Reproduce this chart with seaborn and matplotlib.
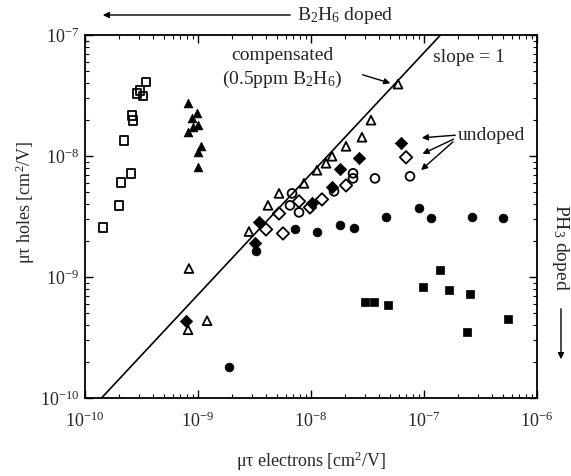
import numpy as np
import pandas as pd
import matplotlib
matplotlib.use("Agg")
import matplotlib.pyplot as plt
import seaborn as sns
from matplotlib.ticker import FixedLocator, LogLocator, NullFormatter

# ---- data (log10 values) ----
b2h6_sq_x = [-9.460, -9.540, -9.487, -9.513, -9.584, -9.575, -9.655, -9.593, -9.681, -9.699, -9.841]
b2h6_sq_y = [-7.389, -7.481, -7.505, -7.456, -7.663, -7.704, -7.870, -8.143, -8.218, -8.408, -8.591]

b2h6_tri_x = [-9.088, -9.009, -9.053, -9.000, -9.044, -9.088, -8.973, -9.000, -9.000]
b2h6_tri_y = [-7.563, -7.646, -7.688, -7.746, -7.762, -7.804, -7.920, -7.969, -8.094]

comp_tri_x = [-7.230, -7.469, -7.549, -7.690, -7.814, -7.867, -7.947, -8.062, -8.283, -8.381, -8.549, -9.080, -8.920, -9.088]
comp_tri_y = [-7.406, -7.704, -7.845, -7.920, -8.002, -8.060, -8.118, -8.226, -8.309, -8.408, -8.624, -8.930, -9.361, -9.436]

undoped_fd_x = [-7.204, -7.575, -7.743, -7.814, -7.991, -8.460, -8.496, -9.106]
undoped_fd_y = [-7.895, -8.019, -8.110, -8.259, -8.392, -8.549, -8.723, -9.361]

undoped_od_x = [-7.159, -7.690, -7.903, -8.009, -8.106, -8.283, -8.398, -8.248]
undoped_od_y = [-8.011, -8.243, -8.359, -8.425, -8.375, -8.475, -8.607, -8.640]

undoped_oc_x = [-7.124, -7.434, -7.628, -7.628, -7.796, -8.106, -8.168, -8.186]
undoped_oc_y = [-8.168, -8.185, -8.143, -8.185, -8.292, -8.466, -8.309, -8.408]

ph3_circ_x = [-8.142, -7.947, -7.743, -7.619, -7.336, -7.044, -6.938, -6.575, -6.301, -8.726, -8.487]
ph3_circ_y = [-8.607, -8.632, -8.574, -8.591, -8.500, -8.433, -8.516, -8.500, -8.516, -9.742, -8.781]

ph3_sq_x = [-6.858, -7.009, -6.779, -6.593, -6.619, -7.522, -7.442, -7.319, -6.257]
ph3_sq_y = [-8.939, -9.080, -9.104, -9.138, -9.452, -9.204, -9.204, -9.229, -9.345]

slope_line_x = [1.4e-10, 1.4e-7]
slope_line_y = [1.0e-10, 1.0e-7]

x_ticks = [1e-10, 1e-9, 1e-8, 1e-7, 1e-6]
x_ticklabels = ["10$^{-10}$", "10$^{-9}$", "10$^{-8}$", "10$^{-7}$", "10$^{-6}$"]
y_ticks = [1e-10, 1e-9, 1e-8, 1e-7]
y_ticklabels = ["10$^{-10}$", "10$^{-9}$", "10$^{-8}$", "10$^{-7}$"]

# ---- style ----
sns.set_theme(style="ticks")
plt.rcParams["font.family"] = ["Liberation Serif", "DejaVu Serif"]
plt.rcParams["mathtext.fontset"] = "custom"
plt.rcParams["mathtext.rm"] = "Liberation Serif"
plt.rcParams["mathtext.it"] = "Liberation Serif:italic"
plt.rcParams["mathtext.default"] = "rm"

fig = plt.figure(figsize=(5.71, 4.76), dpi=100)
ax = fig.add_axes([85/571, 1-398/476, (537-85)/571, (398-35)/476])

def mk(xs, ys):
    return pd.DataFrame({"x": 10.0**np.array(xs), "y": 10.0**np.array(ys)})

ms = 40
lw = 1.3
sns.scatterplot(data=mk(b2h6_sq_x, b2h6_sq_y), x="x", y="y", marker="s", s=ms,
                facecolor="none", edgecolor="black", linewidth=lw, ax=ax)
sns.scatterplot(data=mk(b2h6_tri_x, b2h6_tri_y), x="x", y="y", marker="^", s=ms,
                color="black", edgecolor="black", linewidth=0.5, ax=ax)
sns.scatterplot(data=mk(comp_tri_x, comp_tri_y), x="x", y="y", marker="^", s=ms,
                facecolor="none", edgecolor="black", linewidth=lw, ax=ax)
sns.scatterplot(data=mk(undoped_fd_x, undoped_fd_y), x="x", y="y", marker="D", s=ms,
                color="black", edgecolor="black", linewidth=0.5, ax=ax)
sns.scatterplot(data=mk(undoped_od_x, undoped_od_y), x="x", y="y", marker="D", s=ms,
                facecolor="none", edgecolor="black", linewidth=lw, ax=ax)
sns.scatterplot(data=mk(undoped_oc_x, undoped_oc_y), x="x", y="y", marker="o", s=ms,
                facecolor="none", edgecolor="black", linewidth=lw, ax=ax)
sns.scatterplot(data=mk(ph3_circ_x, ph3_circ_y), x="x", y="y", marker="o", s=ms,
                color="black", edgecolor="black", linewidth=0.5, ax=ax)
sns.scatterplot(data=mk(ph3_sq_x, ph3_sq_y), x="x", y="y", marker="s", s=ms,
                color="black", edgecolor="black", linewidth=0.5, ax=ax)

sns.lineplot(x=slope_line_x, y=slope_line_y, color="black", linewidth=1.2, ax=ax)

ax.set_xscale("log")
ax.set_yscale("log")
ax.set_xlim(1e-10, 1e-6)
ax.set_ylim(1e-10, 1e-7)
ax.xaxis.set_major_locator(FixedLocator(x_ticks))
ax.yaxis.set_major_locator(FixedLocator(y_ticks))
ax.set_xticklabels(x_ticklabels)
ax.set_yticklabels(y_ticklabels)
ax.xaxis.set_minor_locator(LogLocator(base=10, subs=np.arange(2, 10)))
ax.yaxis.set_minor_locator(LogLocator(base=10, subs=np.arange(2, 10)))
ax.xaxis.set_minor_formatter(NullFormatter())
ax.yaxis.set_minor_formatter(NullFormatter())
ax.tick_params(which="both", direction="in", top=True, right=True, color="black")
ax.tick_params(which="major", length=6, width=1.0, labelsize=13)
ax.tick_params(which="minor", length=3, width=0.8)
ax.tick_params(axis="x", which="major", pad=10)
ax.tick_params(axis="y", which="major", pad=4)
for sp in ax.spines.values():
    sp.set_linewidth(1.3)
    sp.set_color("black")
ax.set_xlabel("")
ax.set_ylabel("")

fig.text(311/571, 1-461/476, "μτ electrons [cm$^2$/V]", ha="center", va="center", fontsize=13)
fig.text(25/571, 1-202/476, "μτ holes [cm$^2$/V]", ha="center", va="center", rotation=90, fontsize=13)

# annotations
ax.text(282/571, 1-55/476, "compensated", transform=fig.transFigure, ha="center", va="center", fontsize=14)
ax.text(282/571, 1-79/476, "(0.5ppm B$_2$H$_6$)", transform=fig.transFigure, ha="center", va="center", fontsize=14)
ax.annotate("", xy=(393/571, 1-84/476), xytext=(360/571, 1-74/476),
            xycoords="figure fraction", textcoords="figure fraction",
            arrowprops=dict(arrowstyle="-|>", color="black", lw=1.0, mutation_scale=9))
ax.text(433/571, 1-57/476, "slope = 1", transform=fig.transFigure, ha="left", va="center", fontsize=14)
ax.text(458/571, 1-135/476, "undoped", transform=fig.transFigure, ha="left", va="center", fontsize=14)
for tx, ty, hx, hy in [(458, 135, 419, 138), (456, 138, 420, 155), (455, 140, 419, 172)]:
    ax.annotate("", xy=(hx/571, 1-hy/476), xytext=(tx/571, 1-ty/476),
                xycoords="figure fraction", textcoords="figure fraction",
                arrowprops=dict(arrowstyle="-|>", color="black", lw=1.0, mutation_scale=9))

fig.text(297/571, 1-15/476, "B$_2$H$_6$ doped", ha="left", va="center", fontsize=14)
ax.annotate("", xy=(100/571, 1-15/476), xytext=(293/571, 1-15/476),
            xycoords="figure fraction", textcoords="figure fraction",
            arrowprops=dict(arrowstyle="-|>", color="black", lw=1.0, mutation_scale=9))
fig.text(561/571, 1-247/476, "PH$_3$ doped", ha="center", va="center", rotation=-90, fontsize=14)
ax.annotate("", xy=(561/571, 1-362/476), xytext=(561/571, 1-306/476),
            xycoords="figure fraction", textcoords="figure fraction",
            arrowprops=dict(arrowstyle="-|>", color="black", lw=1.0, mutation_scale=9))

fig.savefig("out.png", dpi=100)
